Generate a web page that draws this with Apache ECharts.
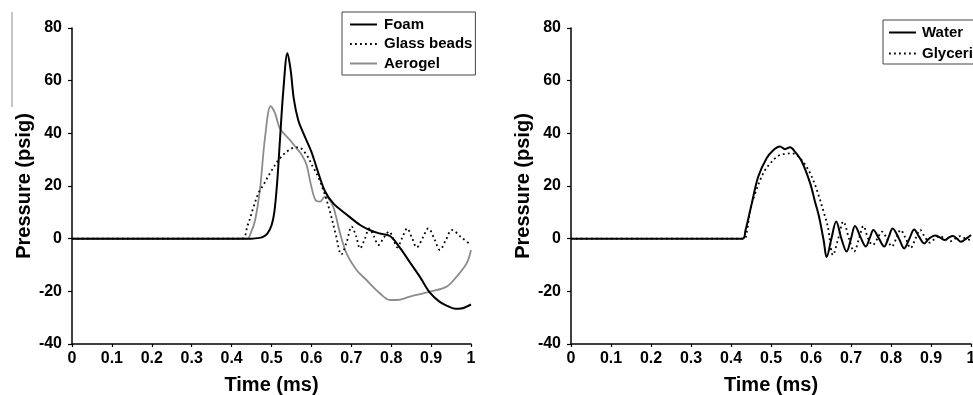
<!DOCTYPE html>
<html>
<head>
<meta charset="utf-8">
<script src="https://cdn.jsdelivr.net/npm/echarts@6/dist/echarts.min.js"></script>
<style>
html,body{margin:0;padding:0;background:#fff;}
#c{width:973px;height:395px;}
</style>
</head>
<body>
<div id="c"></div>
<script>
// ---- data ----
const xTicks = [0, 0.1, 0.2, 0.3, 0.4, 0.5, 0.6, 0.7, 0.8, 0.9, 1];
const yTicks = [-40, -20, 0, 20, 40, 60, 80];

const foamT = [0, 0.45, 0.47, 0.48, 0.49, 0.5, 0.507, 0.514, 0.521, 0.53, 0.54, 0.548, 0.556, 0.567, 0.58, 0.6, 0.613, 0.634, 0.655, 0.688, 0.722, 0.747, 0.77, 0.797, 0.822, 0.847, 0.872, 0.897, 0.92, 0.94, 0.96, 0.975, 1.0];
const foamP = [0, 0, 0.3, 0.8, 2, 5, 10, 21, 37, 57, 70.4, 64, 53, 45, 40, 33, 27, 18, 13.4, 9.2, 5.2, 3.2, 2, 1, -3.5, -9, -14.5, -20.5, -23.8, -25.5, -26.6, -26.5, -25];

const beadsT = [0, 0.425, 0.44, 0.455, 0.467, 0.48, 0.496, 0.521, 0.551, 0.567, 0.588, 0.603, 0.617, 0.632, 0.647, 0.662, 0.675, 0.688, 0.701, 0.712, 0.722, 0.734, 0.745, 0.757, 0.768, 0.782, 0.795, 0.805, 0.815, 0.828, 0.840, 0.852, 0.864, 0.879, 0.893, 0.908, 0.922, 0.937, 0.952, 0.976, 1.0];
const beadsP = [0, 0, 5, 12, 17.2, 20.5, 24.8, 30.5, 34.3, 34.7, 31.8, 27.5, 23.5, 17.5, 10, 1, -6, -1.5, 4.6, 1, -3.7, 0, 3.9, 0.8, -2.4, 0.5, 2.7, 0, -3.3, 0.5, 3.9, 0.3, -3.3, 0.3, 3.9, 0, -4.3, -0.5, 3.3, 0.5, -2.4];

const aeroT = [0, 0.438, 0.45, 0.459, 0.471, 0.484, 0.498, 0.509, 0.521, 0.546, 0.563, 0.576, 0.588, 0.598, 0.611, 0.622, 0.634, 0.642, 0.655, 0.672, 0.688, 0.713, 0.738, 0.772, 0.797, 0.814, 0.847, 0.897, 0.939, 0.964, 0.989, 1.0];
const aeroP = [0, 0, 3, 7, 18.5, 38.7, 50.3, 47.6, 41.9, 37.5, 34.3, 31.8, 28, 21, 14.5, 14.1, 16, 15.5, 12, 2, -5.6, -11.9, -15.7, -20.8, -23.3, -23.3, -22, -20.1, -18.2, -14.4, -9.4, -4.3];

const waterT = [0, 0.429, 0.436, 0.452, 0.468, 0.489, 0.505, 0.5225, 0.535, 0.5475, 0.56, 0.577, 0.598, 0.61, 0.62, 0.632, 0.639, 0.651, 0.663, 0.676, 0.689, 0.70, 0.71, 0.724, 0.737, 0.747, 0.756, 0.77, 0.783, 0.794, 0.804, 0.82, 0.833, 0.846, 0.858, 0.87, 0.883, 0.895, 0.91, 0.922, 0.935, 0.945, 0.955, 0.965, 0.975, 0.988, 1.0];
const waterP = [0, 0, 3, 13.4, 23.5, 30.5, 33.5, 35, 34, 34.7, 33, 29.3, 21, 14, 8.4, -1, -7, 0, 6.5, 0, -4.9, 0, 4.8, 0.5, -3, 0.3, 3.3, 0, -3, 0.5, 3.9, 0, -3.7, 0, 3.5, 0.8, -1.8, 0, 1.2, 0.5, -0.5, 0.5, 1.0, 0, -1.2, 0, 1.4];

const glyT = [0, 0.432, 0.44, 0.448, 0.46, 0.473, 0.485, 0.498, 0.51, 0.5225, 0.537, 0.552, 0.563, 0.573, 0.586, 0.598, 0.61, 0.62, 0.632, 0.642, 0.655, 0.668, 0.681, 0.695, 0.708, 0.72, 0.731, 0.743, 0.754, 0.766, 0.777, 0.79, 0.802, 0.813, 0.824, 0.837, 0.849, 0.861, 0.873, 0.885, 0.897, 0.91, 0.922, 0.935, 0.948, 0.96, 0.973, 0.986, 1.0];
const glyP = [0, 0, 3, 10.9, 17, 22.3, 26, 28.6, 30.5, 31.8, 32.2, 32.4, 31.8, 30.5, 28, 24.8, 20.5, 16, 10, 4.6, -6.2, 0, 6.5, 0, -4.9, 0, 4.8, 0, -2.4, 0, 2.7, 0, -3, 0, 3.3, 0, -3.6, 0, 3.3, 0.5, -1.5, 0, 1, 0, -1, 0, 1, 0, -0.5];

const leftNames = ['Foam', 'Glass beads', 'Aerogel'];
const rightNames = ['Water', 'Glycerin'];

// ---- chart ----
const zip = (a, b) => a.map((v, i) => [v, b[i]]);
const FONT = "'Liberation Sans', Arial, sans-serif";

function xAxisCfg(gi) {
  return {
    type: 'value', gridIndex: gi,
    min: xTicks[0], max: xTicks[xTicks.length - 1], interval: 0.1,
    name: 'Time (ms)', nameLocation: 'middle', nameGap: 31,
    nameTextStyle: { fontFamily: FONT, fontWeight: 'bold', fontSize: 20, color: '#000' },
    axisLine: { onZero: false, lineStyle: { color: '#000', width: 1.5 } },
    axisTick: { show: true, length: 3, lineStyle: { color: '#000', width: 1.2 } },
    axisLabel: { fontFamily: FONT, fontWeight: 'bold', fontSize: 16, color: '#000', margin: 7, showMaxLabel: true, showMinLabel: true,
      formatter: v => String(Math.round(v * 10) / 10) },
    splitLine: { show: false }
  };
}
function yAxisCfg(gi) {
  return {
    type: 'value', gridIndex: gi,
    min: yTicks[0], max: yTicks[yTicks.length - 1], interval: 20,
    name: 'Pressure (psig)', nameLocation: 'middle', nameGap: 38,
    nameTextStyle: { fontFamily: FONT, fontWeight: 'bold', fontSize: 20, color: '#000' },
    axisLine: { onZero: false, lineStyle: { color: '#000', width: 1.5 } },
    axisTick: { show: true, length: 4, lineStyle: { color: '#000', width: 1.2 } },
    axisLabel: { fontFamily: FONT, fontWeight: 'bold', fontSize: 16, color: '#000', margin: 10 },
    splitLine: { show: false }
  };
}
function lineSeries(name, gi, data, style) {
  return {
    name, type: 'line', xAxisIndex: gi, yAxisIndex: gi,
    data, symbol: 'none', smooth: 0.35, lineStyle: style, itemStyle: { color: style.color },
    animation: false, z: style.z || 2
  };
}
const dotted = { color: '#000', width: 1.8, type: [1.8, 3.2], cap: 'butt' };

const chart = echarts.init(document.getElementById('c'), null, { renderer: 'canvas' });
chart.setOption({
  animation: false,
  backgroundColor: '#fff',
  grid: [
    { left: 72, top: 28, width: 399, height: 316, outerBoundsMode: 'none', containLabel: false },
    { left: 571, top: 28, width: 400, height: 316, outerBoundsMode: 'none', containLabel: false }
  ],
  xAxis: [xAxisCfg(0), xAxisCfg(1)],
  yAxis: [yAxisCfg(0), yAxisCfg(1)],
  legend: [
    {
      data: leftNames, orient: 'vertical', left: 342, top: 12,
      padding: [5, 3, 4, 7], itemGap: 4.5, itemWidth: 27, itemHeight: 14,
      borderColor: '#444', borderWidth: 1, backgroundColor: '#fff',
      itemStyle: { opacity: 0 },
      textStyle: { fontFamily: FONT, fontWeight: 'bold', fontSize: 15, color: '#000', padding: [0, 0, 0, 2] }
    },
    {
      data: rightNames, orient: 'vertical', left: 883, top: 20,
      padding: [5, 8, 3, 5], itemGap: 6, itemWidth: 27, itemHeight: 14,
      borderColor: '#444', borderWidth: 1, backgroundColor: '#fff',
      itemStyle: { opacity: 0 },
      textStyle: { fontFamily: FONT, fontWeight: 'bold', fontSize: 15, color: '#000', padding: [0, 0, 0, 1] }
    }
  ],
  series: [
    lineSeries('Aerogel', 0, zip(aeroT, aeroP), { color: '#8c8c8c', width: 1.8, z: 1 }),
    lineSeries('Glass beads', 0, zip(beadsT, beadsP), dotted),
    lineSeries('Foam', 0, zip(foamT, foamP), { color: '#000', width: 2, z: 3 }),
    lineSeries('Glycerin', 1, zip(glyT, glyP), dotted),
    lineSeries('Water', 1, zip(waterT, waterP), { color: '#000', width: 2, z: 3 })
  ],
  graphic: [
    { type: 'line', shape: { x1: 12, y1: 12, x2: 12, y2: 107 }, style: { stroke: '#8a8a8a', lineWidth: 1 } }
  ]
});
</script>
</body>
</html>
